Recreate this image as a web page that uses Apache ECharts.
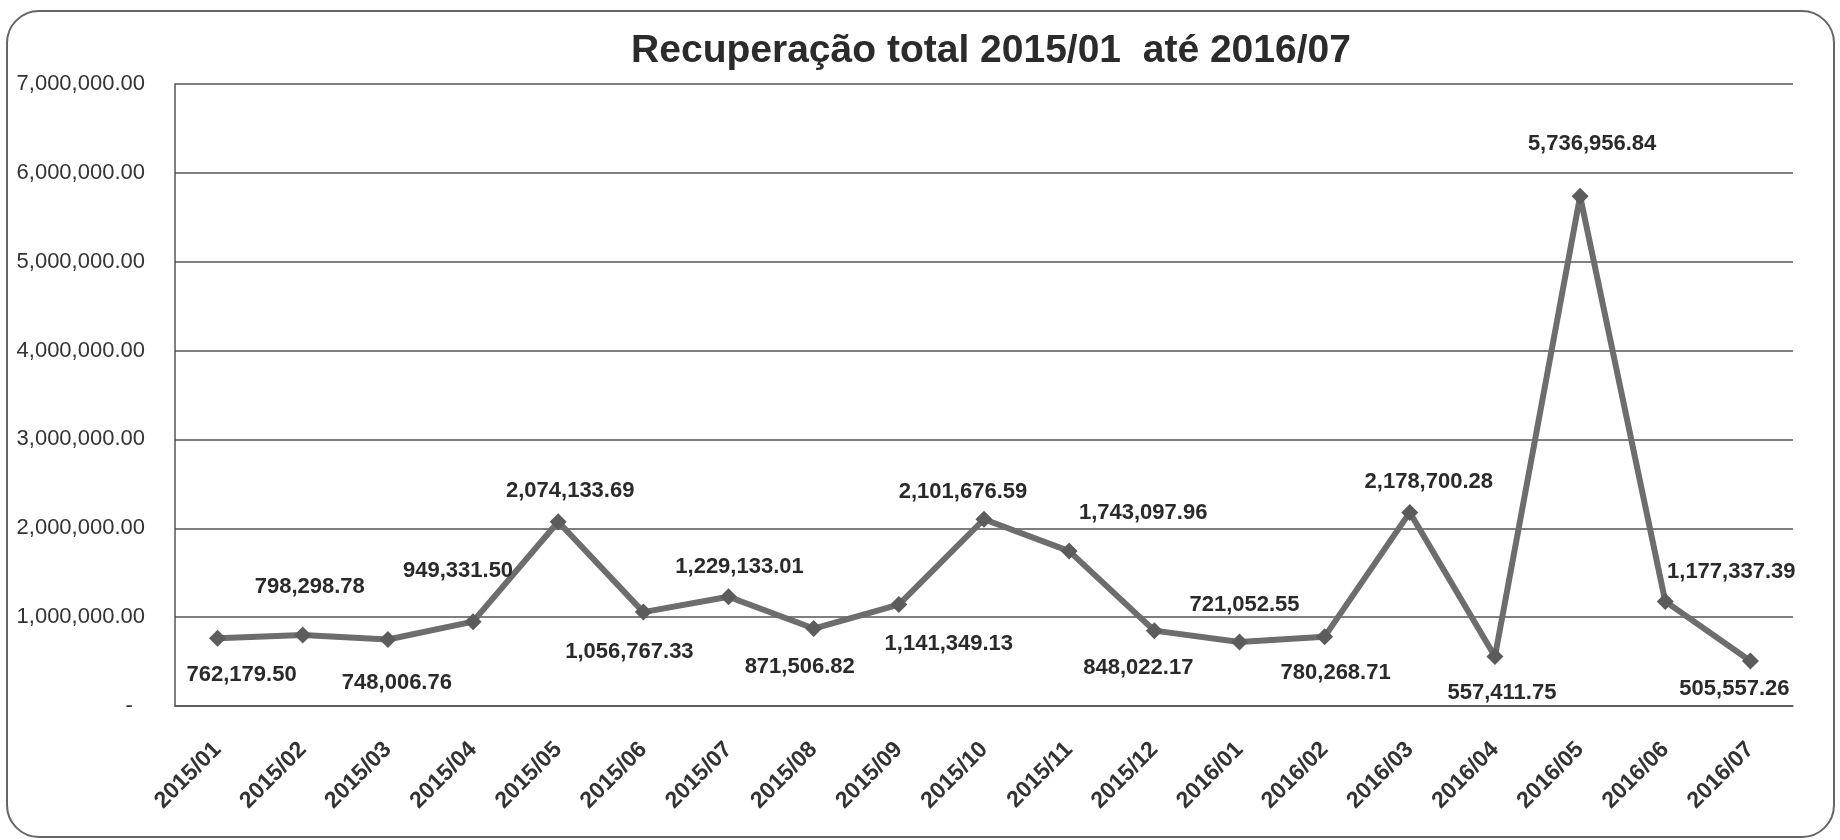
<!DOCTYPE html>
<html>
<head>
<meta charset="utf-8">
<title>Recuperação total</title>
<script src="https://cdn.jsdelivr.net/npm/echarts@6/dist/echarts.min.js"></script>
<style>
    html, body { margin: 0; padding: 0; background: #fff; }
    #recoveryChart { width: 1840px; height: 840px; }
</style>
</head>
<body>
<div id="recoveryChart"></div>
<script>
const months = ['2015/01', '2015/02', '2015/03', '2015/04', '2015/05', '2015/06', '2015/07', '2015/08', '2015/09', '2015/10',
    '2015/11', '2015/12', '2016/01', '2016/02', '2016/03', '2016/04', '2016/05', '2016/06', '2016/07']
const recovered = [762179.50, 798298.78, 748006.76, 949331.50, 2074133.69, 1056767.33, 1229133.01, 871506.82, 1141349.13, 2101676.59,
    1743097.96, 848022.17, 721052.55, 780268.71, 2178700.28, 557411.75, 5736956.84, 1177337.39, 505557.26]
const yMax = 7000000
const yStep = 1000000

// where each value label sits relative to its point (px)
const labelOffsets = [[24, 37], [7, -48], [9, 43], [-15, -51], [12, -31], [-14, 40], [11, -30], [-14, 38], [50, 39], [-21, -27],
    [74, -38], [-16, 37], [5, -37], [11, 36], [19, -30], [7, 36], [12, -52], [66, -29], [-16, 28]]

const fontFamily = "'Liberation Sans', Arial, sans-serif"

const money = (v) => v.toLocaleString('en-US', { minimumFractionDigits: 2, maximumFractionDigits: 2 })

const chartInstance = echarts.init(document.getElementById('recoveryChart'))

const options = {
    backgroundColor: '#fff',
    animation: false,
    title: {
        text: 'Recuperação total 2015/01  até 2016/07',
        left: 986,
        top: 27,
        textAlign: 'center',
        textStyle: {
            fontFamily: fontFamily,
            fontSize: 39,
            fontWeight: 'bold',
            color: '#2b2b2b'
        }
    },
    graphic: [{
        type: 'rect',
        shape: { x: 7, y: 11, width: 1827, height: 826, r: 32 },
        style: { fill: 'none', stroke: '#666', lineWidth: 2 },
        silent: true,
        z: -1
    }],
    grid: {
        left: 175,
        right: 47,
        top: 84,
        bottom: 134,
        containLabel: false
    },
    xAxis: {
        type: 'category',
        data: months,
        boundaryGap: true,
        axisLine: { show: true, lineStyle: { color: '#555', width: 1.5 } },
        axisTick: { show: false },
        axisLabel: {
            rotate: 45,
            margin: 40,
            fontFamily: fontFamily,
            fontSize: 23,
            fontWeight: 'bold',
            color: '#333'
        },
        splitLine: { show: false }
    },
    yAxis: {
        type: 'value',
        min: 0,
        max: yMax,
        interval: yStep,
        axisLine: { show: true, lineStyle: { color: '#555', width: 1.5 } },
        axisTick: { show: false },
        splitLine: { show: true, lineStyle: { color: '#555', width: 1.5 } },
        axisLabel: {
            margin: 30,
            fontFamily: fontFamily,
            fontSize: 22,
            color: '#333',
            formatter: (v) => v === 0 ? '-  ' : money(v)
        }
    },
    series: [{
        type: 'line',
        name: 'Recuperação',
        data: recovered,
        symbol: 'diamond',
        symbolSize: 17,
        showSymbol: true,
        smooth: false,
        lineStyle: { color: '#6d6d6d', width: 6 },
        itemStyle: { color: '#5c5c5c' },
        label: {
            show: true,
            position: 'inside',
            align: 'center',
            verticalAlign: 'middle',
            fontFamily: fontFamily,
            fontSize: 22,
            fontWeight: 'bold',
            color: '#2a2a2a',
            formatter: (p) => money(p.value)
        },
        labelLayout: (params) => ({
            dx: labelOffsets[params.dataIndex][0],
            dy: labelOffsets[params.dataIndex][1],
            hideOverlap: false
        }),
        z: 3
    }]
}

chartInstance.setOption(options)
</script>
</body>
</html>
